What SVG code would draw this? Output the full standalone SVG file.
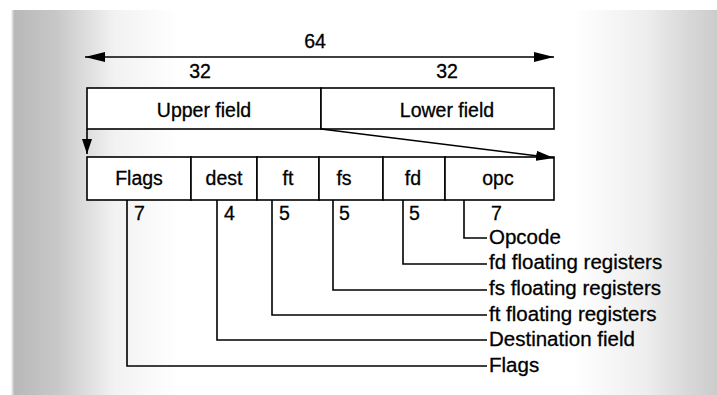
<svg xmlns="http://www.w3.org/2000/svg" width="717" height="395" viewBox="0 0 717 395">
<defs>
<linearGradient id="bg" x1="0" y1="0" x2="717" y2="0" gradientUnits="userSpaceOnUse">
<stop offset="0" stop-color="#ffffff"/>
<stop offset="0.015" stop-color="#ffffff"/>
<stop offset="0.02" stop-color="#b8b8b8"/>
<stop offset="0.08" stop-color="#c8c8c8"/>
<stop offset="0.16" stop-color="#f2f2f2"/>
<stop offset="0.25" stop-color="#ffffff"/>
<stop offset="0.8" stop-color="#ffffff"/>
<stop offset="0.9" stop-color="#eeeeee"/>
<stop offset="0.96" stop-color="#d8d8d8"/>
<stop offset="1" stop-color="#cccccc"/>
</linearGradient>
<marker id="ah" markerUnits="userSpaceOnUse" markerWidth="21" markerHeight="11" refX="20" refY="5" orient="auto-start-reverse" viewBox="0 0 21 10">
<path d="M0,0 L20,5 L0,10 Z" fill="#000"/>
</marker>
<marker id="ahg" markerUnits="userSpaceOnUse" markerWidth="19" markerHeight="11" refX="18" refY="5" orient="auto" viewBox="0 0 19 10">
<path d="M0,0 L18,5 L0,10 Z" fill="#000"/>
</marker>
<marker id="ahd" markerUnits="userSpaceOnUse" markerWidth="16" markerHeight="11" refX="15" refY="5" orient="auto" viewBox="0 0 16 10">
<path d="M0,0 L15,5 L0,10 Z" fill="#000"/>
</marker>
</defs>
<style>
text{font-family:"Liberation Sans",Arial,sans-serif;font-size:19.5px;fill:#000;stroke:#000;stroke-width:0.3}
.c{text-anchor:middle}
.d{font-size:20.5px}
.box{fill:#fff;stroke:#000;stroke-width:1.6}
.ln{fill:none;stroke:#000;stroke-width:1.6}
</style>
<rect x="0" y="10" width="717" height="385" fill="url(#bg)"/>
<rect x="0" y="0" width="717" height="10" fill="#fff"/>

<g id="width-labels">
<text class="c" x="315" y="48">64</text>
<text class="c" x="200" y="78">32</text>
<text class="c" x="447" y="78">32</text>
</g>

<g id="upper-field">
<rect class="box" x="87" y="88" width="234" height="41"/>
<text class="c" x="204" y="117">Upper field</text>
</g>
<g id="lower-field">
<rect class="box" x="321" y="88" width="233" height="41"/>
<text class="c" x="447" y="117">Lower field</text>
</g>

<g id="field-flags">
<rect class="box" x="87" y="157" width="104" height="43"/>
<text class="c" x="139" y="185">Flags</text>
<text x="134" y="220">7</text>
</g>
<g id="field-dest">
<rect class="box" x="191" y="157" width="66" height="43"/>
<text class="c" x="224" y="185">dest</text>
<text x="224" y="220">4</text>
</g>
<g id="field-ft">
<rect class="box" x="257" y="157" width="62" height="43"/>
<text class="c" x="288" y="185">ft</text>
<text x="279" y="220">5</text>
</g>
<g id="field-fs">
<rect class="box" x="319" y="157" width="64" height="43"/>
<text class="c" x="344" y="185">fs</text>
<text x="339" y="220">5</text>
</g>
<g id="field-fd">
<rect class="box" x="383" y="157" width="62" height="43"/>
<text class="c" x="413" y="185">fd</text>
<text x="409" y="220">5</text>
</g>
<g id="field-opc">
<rect class="box" x="445" y="157" width="109" height="43"/>
<text class="c" x="498" y="185">opc</text>
<text x="491" y="220">7</text>
</g>

<g id="descriptions">
<text class="d" x="489" y="244">Opcode</text>
<text class="d" x="489" y="269">fd floating registers</text>
<text class="d" x="489" y="295">fs floating registers</text>
<text class="d" x="489" y="321">ft floating registers</text>
<text class="d" x="489" y="346">Destination field</text>
<text class="d" x="489" y="372">Flags</text>
</g>

<g id="connectors">
<line class="ln" x1="85" y1="57" x2="554" y2="57" marker-start="url(#ah)" marker-end="url(#ah)"/>
<line class="ln" x1="87" y1="129" x2="87" y2="154" marker-end="url(#ahd)"/>
<line class="ln" x1="321" y1="129" x2="554" y2="158" marker-end="url(#ahg)"/>
<polyline class="ln" points="464,200 464,238 487,238"/>
<polyline class="ln" points="403,200 403,264 487,264"/>
<polyline class="ln" points="333,200 333,290 487,290"/>
<polyline class="ln" points="272,200 272,315 487,315"/>
<polyline class="ln" points="217,200 217,340 487,340"/>
<polyline class="ln" points="127,200 127,366 487,366"/>
</g>
</svg>
